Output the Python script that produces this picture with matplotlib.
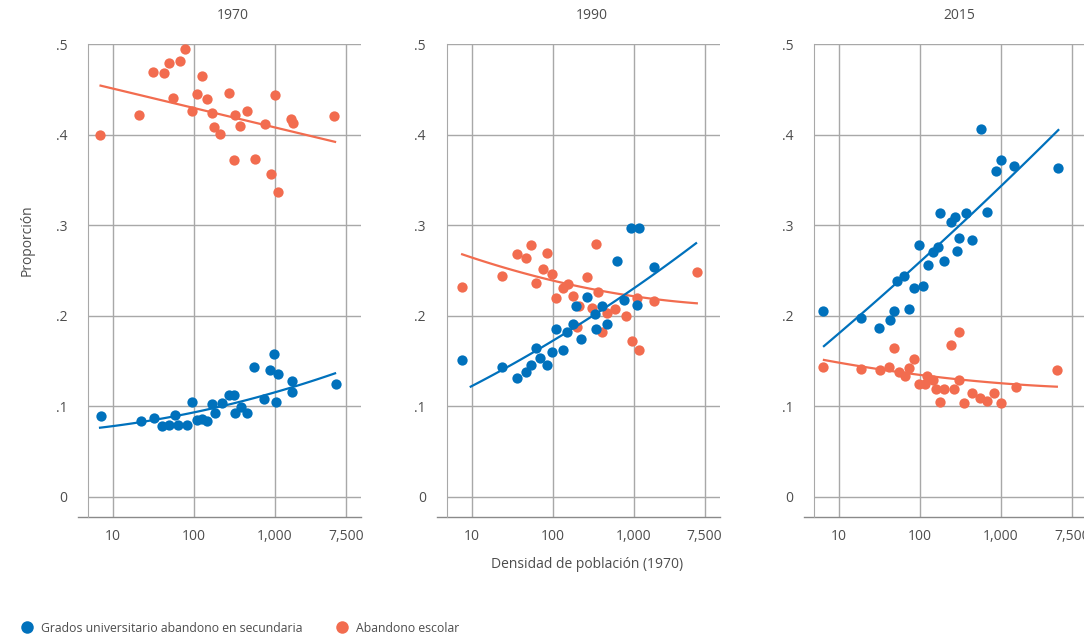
import numpy as np
import matplotlib.pyplot as plt
from matplotlib.lines import Line2D

plt.rcParams['font.family'] = ['Open Sans', 'DejaVu Sans']

blue = '#0071bc'
orange = '#f26c4f'
txt = '#4d4d4d'

years = ['1970', '1990', '2015']

# 1970
dens_70_b = [7.0, 22, 31.8, 39.9, 49.5, 57.7, 64, 81, 94.5, 110, 126, 146, 168, 183, 220, 273, 315, 318,
             378, 447, 556, 738, 875, 973, 1020, 1080, 1622, 1637, 5610]
grad_70 = [0.0894, 0.0842, 0.0868, 0.0787, 0.0791, 0.0901, 0.0798, 0.0798, 0.1045, 0.085, 0.0857, 0.0835,
           0.1026, 0.0923, 0.1037, 0.1129, 0.1122, 0.093, 0.099, 0.0927, 0.1438, 0.1085, 0.1402, 0.1582,
           0.1045, 0.1354, 0.1284, 0.1162, 0.125]
dens_70_o = [6.9, 21, 31.5, 43, 49, 55.6, 67.8, 77.4, 93.6, 110, 124, 146, 167, 178, 211, 270, 315, 318,
             370, 447, 566, 753, 885, 1000, 1080, 1563, 1683, 5395]
aband_70 = [0.400, 0.4216, 0.469, 0.4676, 0.479, 0.4407, 0.481, 0.495, 0.426, 0.445, 0.4647, 0.439, 0.424,
            0.408, 0.401, 0.4455, 0.3716, 0.4213, 0.4095, 0.426, 0.3734, 0.4114, 0.3565, 0.444, 0.337,
            0.417, 0.4125, 0.421]

# 1990
dens_90_b = [7.5, 23.4, 36.5, 46.8, 53.5, 62, 70, 84, 97, 110, 135, 149, 176, 192, 222, 263, 333, 339,
             409, 472, 616, 759, 933, 1089, 1172, 1800]
grad_90 = [0.1512, 0.1438, 0.1317, 0.1383, 0.1457, 0.1641, 0.1538, 0.1457, 0.1604, 0.1854, 0.1623, 0.1825,
           0.1906, 0.2111, 0.1744, 0.221, 0.2016, 0.1854, 0.2111, 0.1913, 0.2605, 0.2171, 0.2966, 0.212,
           0.2966, 0.2535]
dens_90_o = [7.5, 23.4, 36.5, 53.5, 46.8, 84, 62, 75, 97, 110, 135, 156, 176, 201, 213, 263, 303, 339,
             366, 409, 472, 588, 796, 944, 1089, 1172, 1800, 6000]
aband_90 = [0.2315, 0.2439, 0.2682, 0.2781, 0.2634, 0.2697, 0.2366, 0.2517, 0.2461, 0.2193, 0.2303, 0.2351,
            0.2219, 0.188, 0.2111, 0.2432, 0.2083, 0.2792, 0.2259, 0.1825, 0.2028, 0.2075, 0.2001, 0.1725,
            0.2193, 0.1623, 0.216, 0.2487]

# 2015
dens_15_b = [6.4, 18.5, 31.2, 42.6, 48.2, 73.8, 52.5, 64, 85, 110, 96, 124, 144, 165, 200, 177, 239, 273,
             303, 286, 370, 438, 678, 566, 859, 1000, 1445, 5090]
grad_15 = [0.2056, 0.1972, 0.1862, 0.1954, 0.2053, 0.2075, 0.2381, 0.2443, 0.231, 0.2332, 0.2781, 0.2561,
           0.2708, 0.2756, 0.2608, 0.3138, 0.3039, 0.3094, 0.2855, 0.2712, 0.3138, 0.2837, 0.3149, 0.4062,
           0.3602, 0.372, 0.3653, 0.3628]
dens_15_o = [6.4, 18.5, 31.8, 41.8, 48.2, 55.5, 65.3, 73.8, 85, 97, 115, 121, 146, 156, 177, 200, 239, 263,
             303, 303, 352, 438, 551, 678, 826, 1000, 1531, 4876]
aband_15 = [0.1431, 0.1413, 0.1402, 0.1438, 0.1641, 0.1383, 0.1336, 0.142, 0.152, 0.1247, 0.1247, 0.1339,
            0.1291, 0.1189, 0.1052, 0.1189, 0.1678, 0.1189, 0.1818, 0.1291, 0.1034, 0.1145, 0.1096, 0.106,
            0.1151, 0.1034, 0.1211, 0.1402]

# fitted curves: y = c0 + c1*log10(x) + c2*log10(x)^2, with their x span
fit_70_b = [0.0701, 0.00466, 0.0035]
fit_70_o = [0.47218, -0.02144, 0.0]
fit_90_b = [0.0802, 0.0383, 0.00391]
fit_90_o = [0.2979, -0.03766, 0.004075]
fit_15_b = [0.1065, 0.07196, 0.002315]
fit_15_o = [0.1661, -0.02002, 0.002166]
span_70_b = [6.9, 5500]
span_70_o = [7.0, 5500]
span_90_b = [9.7, 5875]
span_90_o = [7.6, 6000]
span_15_b = [6.5, 5090]
span_15_o = [6.5, 4880]

panels = [
    (dens_70_b, grad_70, dens_70_o, aband_70, fit_70_b, fit_70_o, span_70_b, span_70_o),
    (dens_90_b, grad_90, dens_90_o, aband_90, fit_90_b, fit_90_o, span_90_b, span_90_o),
    (dens_15_b, grad_15, dens_15_o, aband_15, fit_15_b, fit_15_o, span_15_b, span_15_o),
]

xticks = [10, 100, 1000, 7500]
xticklabels = ['10', '100', '1,000', '7,500']
yticks = [0, 0.1, 0.2, 0.3, 0.4, 0.5]
yticklabels = ['0', '.1', '.2', '.3', '.4', '.5']

fig = plt.figure(figsize=(10.84, 6.38), dpi=100)
lefts = [88, 446.7, 814]


def curve(c, span):
    xs = np.logspace(np.log10(span[0]), np.log10(span[1]), 100)
    t = np.log10(xs)
    return xs, c[0] + c[1] * t + c[2] * t ** 2


for i, (xb, yb, xo, yo, fb, fo, sb, so) in enumerate(panels):
    ax = fig.add_axes([lefts[i] / 1084, 1 - 517 / 638, 273 / 1084, 473 / 638])
    ax.set_xscale('log')
    ax.set_xlim(4.9, 11500)
    ax.set_ylim(-0.0221, 0.5)
    ax.set_xticks(xticks)
    ax.set_xticklabels(xticklabels)
    ax.minorticks_off()
    ax.set_yticks(yticks)
    ax.set_yticklabels(yticklabels)
    ax.tick_params(axis='y', length=0, pad=15, labelsize=10, labelcolor=txt)
    ax.tick_params(axis='x', length=0, pad=9, labelsize=10, labelcolor=txt)
    ax.grid(True, color='#a8a8a8', lw=1)
    ax.set_axisbelow(True)
    for s in ['top', 'right', 'bottom']:
        ax.spines[s].set_visible(False)
    ax.spines['left'].set_color('#a8a8a8')
    ax.plot([-0.037, 1], [0, 0], transform=ax.transAxes, clip_on=False, color='#8a8a8a', lw=1)

    ax.scatter(xo, yo, s=55, color=orange, lw=0, zorder=3, clip_on=False)
    ax.scatter(xb, yb, s=55, color=blue, lw=0, zorder=3, clip_on=False)
    cx, cy = curve(fo, so)
    ax.plot(cx, cy, color=orange, lw=1.6, zorder=4)
    cx, cy = curve(fb, sb)
    ax.plot(cx, cy, color=blue, lw=1.6, zorder=4)

    ax.text(0.531, 1.061, years[i], transform=ax.transAxes, ha='center', va='center',
            fontsize=10, color=txt)

fig.text(587 / 1084, 1 - 565 / 638, 'Densidad de población (1970)', ha='center', va='center',
         fontsize=10, color=txt)
fig.text(27 / 1084, 1 - 240 / 638, 'Proporción', rotation=90, ha='center', va='center',
         fontsize=10, color=txt)

handles = [Line2D([], [], ls='', marker='o', ms=9, color=blue, mew=0),
           Line2D([], [], ls='', marker='o', ms=9, color=orange, mew=0)]
fig.legend(handles, ['Grados universitario abandono en secundaria', 'Abandono escolar'],
           loc='center left', bbox_to_anchor=(21 / 1084, 1 - 628 / 638), ncol=2, frameon=False,
           fontsize=8.8, handletextpad=0.7, columnspacing=2.8, labelcolor=txt, borderaxespad=0,
           borderpad=0, handlelength=0.9)

fig.savefig('out.png', dpi=100)
